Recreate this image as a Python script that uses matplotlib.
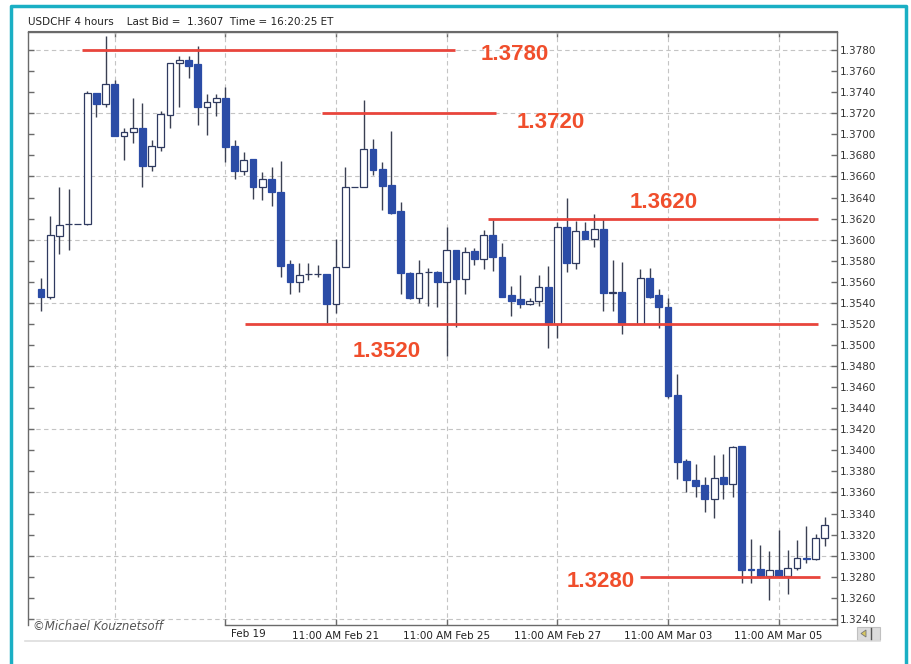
import numpy as np
import matplotlib
matplotlib.use("Agg")
import matplotlib.pyplot as plt
from matplotlib.lines import Line2D
from matplotlib.patches import Rectangle, Polygon

# =============================================================================
# Données (bougies 4h USDCHF)
# =============================================================================
open_ = [1.3553, 1.3546, 1.3603, 1.3615, 1.3615, 1.3615, 1.3739, 1.3729, 1.3748, 1.3698,
         1.3702, 1.3706, 1.3670, 1.3688, 1.3718, 1.3768, 1.3771, 1.3767, 1.3726, 1.3731,
         1.3734, 1.3689, 1.3665, 1.3677, 1.3650, 1.3658, 1.3645, 1.3577, 1.3560, 1.3567,
         1.3567, 1.3567, 1.3539, 1.3574, 1.3650, 1.3650, 1.3686, 1.3667, 1.3652, 1.3627,
         1.3568, 1.3545, 1.3569, 1.3569, 1.3560, 1.3590, 1.3563, 1.3589, 1.3582, 1.3604,
         1.3584, 1.3547, 1.3544, 1.3539, 1.3542, 1.3555, 1.3520, 1.3612, 1.3578, 1.3608,
         1.3601, 1.3610, 1.3549, 1.3550, 1.3520, 1.3520, 1.3564, 1.3547, 1.3536, 1.3453,
         1.3390, 1.3372, 1.3367, 1.3354, 1.3375, 1.3368, 1.3404, 1.3287, 1.3287, 1.3281,
         1.3286, 1.3281, 1.3288, 1.3298, 1.3297, 1.3317]
high = [1.3564, 1.3622, 1.3650, 1.3648, 1.3615, 1.3741, 1.3739, 1.3793, 1.3752, 1.3706,
        1.3734, 1.3730, 1.3695, 1.3722, 1.3768, 1.3774, 1.3774, 1.3784, 1.3738, 1.3738,
        1.3745, 1.3695, 1.3683, 1.3677, 1.3664, 1.3669, 1.3675, 1.3581, 1.3578, 1.3578,
        1.3576, 1.3567, 1.3601, 1.3669, 1.3650, 1.3733, 1.3696, 1.3674, 1.3703, 1.3636,
        1.3569, 1.3581, 1.3573, 1.3570, 1.3612, 1.3590, 1.3593, 1.3592, 1.3609, 1.3619,
        1.3597, 1.3556, 1.3566, 1.3545, 1.3566, 1.3575, 1.3617, 1.3640, 1.3618, 1.3617,
        1.3624, 1.3620, 1.3581, 1.3579, 1.3520, 1.3572, 1.3573, 1.3553, 1.3545, 1.3472,
        1.3392, 1.3387, 1.3375, 1.3396, 1.3397, 1.3404, 1.3404, 1.3316, 1.3310, 1.3304,
        1.3324, 1.3305, 1.3315, 1.3328, 1.3321, 1.3337]
low = [1.3532, 1.3544, 1.3586, 1.3590, 1.3615, 1.3614, 1.3716, 1.3726, 1.3698, 1.3676,
       1.3692, 1.3650, 1.3665, 1.3684, 1.3706, 1.3726, 1.3753, 1.3709, 1.3699, 1.3717,
       1.3674, 1.3658, 1.3661, 1.3639, 1.3638, 1.3632, 1.3565, 1.3548, 1.3550, 1.3562,
       1.3565, 1.3521, 1.3530, 1.3574, 1.3650, 1.3650, 1.3661, 1.3628, 1.3624, 1.3548,
       1.3544, 1.3540, 1.3537, 1.3536, 1.3490, 1.3517, 1.3548, 1.3576, 1.3572, 1.3570,
       1.3546, 1.3528, 1.3535, 1.3538, 1.3537, 1.3497, 1.3507, 1.3569, 1.3572, 1.3601,
       1.3593, 1.3532, 1.3532, 1.3510, 1.3520, 1.3520, 1.3545, 1.3516, 1.3450, 1.3373,
       1.3360, 1.3356, 1.3341, 1.3336, 1.3354, 1.3356, 1.3274, 1.3274, 1.3279, 1.3258,
       1.3280, 1.3264, 1.3286, 1.3293, 1.3296, 1.3309]
close = [1.3546, 1.3604, 1.3614, 1.3615, 1.3615, 1.3739, 1.3729, 1.3748, 1.3698, 1.3702,
         1.3706, 1.3670, 1.3689, 1.3719, 1.3768, 1.3771, 1.3765, 1.3726, 1.3731, 1.3734,
         1.3688, 1.3665, 1.3676, 1.3650, 1.3658, 1.3645, 1.3575, 1.3560, 1.3566, 1.3567,
         1.3567, 1.3539, 1.3574, 1.3650, 1.3650, 1.3686, 1.3666, 1.3651, 1.3625, 1.3568,
         1.3545, 1.3568, 1.3569, 1.3560, 1.3590, 1.3563, 1.3588, 1.3582, 1.3604, 1.3584,
         1.3546, 1.3542, 1.3539, 1.3542, 1.3555, 1.3520, 1.3612, 1.3578, 1.3608, 1.3601,
         1.3610, 1.3549, 1.3550, 1.3520, 1.3520, 1.3564, 1.3546, 1.3536, 1.3452, 1.3389,
         1.3372, 1.3366, 1.3354, 1.3374, 1.3368, 1.3403, 1.3286, 1.3286, 1.3281, 1.3286,
         1.3281, 1.3288, 1.3298, 1.3297, 1.3317, 1.3329]

# niveaux tracés en rouge
levels = [1.3780, 1.3720, 1.3620, 1.3520, 1.3280]
level_labels = ["1.3780", "1.3720", "1.3620", "1.3520", "1.3280"]

# axe des temps (index de bougie)
grid_idx = [8, 20, 32, 44, 56, 68, 80]
xtick_idx = [20, 32, 44, 56, 68, 80]
xtick_labels = ["", "11:00 AM Feb 21", "11:00 AM Feb 25", "11:00 AM Feb 27",
                "11:00 AM Mar 03", "11:00 AM Mar 05"]

# =============================================================================
# Figure
# =============================================================================
W, H = 911, 664
fig = plt.figure(figsize=(W / 100, H / 100), dpi=100)
fx = lambda px: px / W
fy = lambda py: 1 - py / H

ax = fig.add_axes([fx(28), fy(625), fx(837) - fx(28), fy(31.5) - fy(625)])
xmin, xmax = -1.41, 86.33
ax.set_xlim(xmin, xmax)
ax.set_ylim(1.32342, 1.37976)

o = np.array(open_); h = np.array(high); l = np.array(low); c = np.array(close)
idx = np.arange(len(o))
bear = c < o
blue = "#2B4CA6"

# mèches
ax.vlines(idx, l, h, color="#3b4052", lw=1, zorder=2)
# corps
bottoms = np.minimum(o, c)
heights = np.abs(c - o)
faces = [blue if b else "white" for b in bear]
edges = [blue if b else "#2f3a60" for b in bear]
ax.bar(idx, heights, bottom=bottoms, width=0.74, color=faces, edgecolor=edges,
       linewidth=0.9, zorder=3)

# grille pointillée
grid_kw = dict(color="#c4c4c4", lw=0.8, linestyle=(0, (4, 3)), zorder=1)
for g in grid_idx:
    ax.axvline(g, **grid_kw)
for p in np.arange(1.3240, 1.37801, 0.006):
    ax.axhline(p, **grid_kw)

# lignes rouges + étiquettes
red_line = "#E8453C"
red_txt = "#F04E2C"
spans = [(4.45, 44.9), (30.5, 49.3), (48.5, 84.3), (22.1, 84.3), (65.0, 84.5)]
lab_pos = [(51.4, -3), (55.3, -7), (67.5, 11.5), (37.5, -19.5), (60.7, -3.5)]
for lev, txt, (x0, x1), (lx, dy) in zip(levels, level_labels, spans, lab_pos):
    ax.hlines(lev, x0, x1, color=red_line, lw=2, zorder=4)
    ax.annotate(txt, xy=(lx, lev), xytext=(0, dy), textcoords="offset points",
                ha="center", va="center", fontsize=16, fontweight="bold",
                family="Liberation Sans", color=red_txt, zorder=5)

# axes
spine_c = "#6a6a6a"
for s in ax.spines.values():
    s.set_color(spine_c)
    s.set_linewidth(1)
ax.spines["bottom"].set_bounds(20, xmax)

ax.set_yticks(np.round(np.arange(1.3240, 1.37801, 0.002), 4))
ax.yaxis.set_major_formatter(matplotlib.ticker.FormatStrFormatter("%.4f"))
ax.tick_params(axis="y", left=True, right=True, labelleft=False, labelright=True,
               direction="in", length=4, width=1, color=spine_c, pad=2,
               labelsize=7.5, labelcolor="#333333")
ax.set_xticks(xtick_idx)
ax.set_xticklabels(xtick_labels)
ax.tick_params(axis="x", direction="in", length=4, width=1, color=spine_c, pad=4,
               labelsize=7.5, labelcolor="#222222")

top = ax.secondary_xaxis("top")
top.set_xticks(grid_idx)
top.set_xticklabels([])
top.tick_params(direction="in", length=4, width=1, color=spine_c)
top.spines["top"].set_color(spine_c)

# textes
fig.text(fx(28), fy(22), "USDCHF 4 hours    Last Bid =  1.3607  Time = 16:20:25 ET",
         fontsize=7.5, color="#222222", va="center", ha="left")
fig.text(fx(33), fy(626), "©Michael Kouznetsoff", fontsize=8.5, style="italic",
         color="#555555", va="center", ha="left")
fig.text(fx(231), fy(634), "Feb 19", fontsize=7.5, color="#222222", va="center", ha="left")

# cadre de fenêtre
fig.add_artist(Line2D([fx(25), fx(880)], [fy(641), fy(641)], color="#dddddd", lw=1.2))
fig.add_artist(Rectangle((fx(857), fy(640)), fx(880) - fx(857), fy(627) - fy(640),
                         facecolor="#dcdcdc", edgecolor="#c0c0c0", lw=0.8))
fig.add_artist(Polygon([[fx(861), fy(633.5)], [fx(866), fy(630)], [fx(866), fy(637)]],
                       closed=True, facecolor="#d8c860", edgecolor="#777777", lw=0.6))
fig.add_artist(Line2D([fx(871), fx(871)], [fy(628), fy(639)], color="#555555", lw=1))

teal = "#1AAFC4"
fig.add_artist(Line2D([fx(11), fx(11), fx(906), fx(906)], [0, fy(6), fy(6), 0],
                      color=teal, lw=2.5))

fig.savefig("out.png", dpi=100)
